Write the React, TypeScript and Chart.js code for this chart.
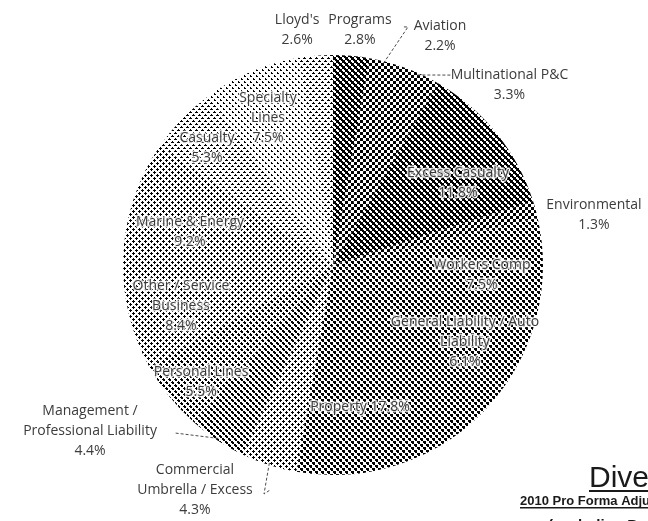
import React, { useEffect, useRef } from "react";
import { Chart, registerables } from "chart.js";

Chart.register(...registerables);

// ---- data (clockwise from 12 o'clock) ----
const categories = [
  "Programs",
  "Aviation",
  "Multinational P&C",
  "Excess Casualty",
  "Environmental",
  "Workers Comp",
  "General Liability / Auto Liability",
  "Property",
  "Commercial Umbrella / Excess",
  "Management / Professional Liability",
  "Personal Lines",
  "Other / Service Business",
  "Marine & Energy",
  "Casualty",
  "Specialty Lines",
  "Lloyd's",
];
const shares = [2.8, 2.2, 3.3, 11.8, 1.3, 7.5, 6.1, 17.8, 4.3, 4.4, 5.5, 8.4, 9.2, 5.3, 7.5, 2.6];

// ---- styling / label layout ----
const labelBreaks: string[][] = [
  ["Programs"],
  ["Aviation"],
  ["Multinational P&C"],
  ["Excess Casualty"],
  ["Environmental"],
  ["Workers Comp"],
  ["General Liability / Auto", "Liability"],
  ["Property"],
  ["Commercial", "Umbrella / Excess"],
  ["Management /", "Professional Liability"],
  ["Personal Lines"],
  ["Other / Service", "Business"],
  ["Marine & Energy"],
  ["Casualty"],
  ["Specialty", "Lines"],
  ["Lloyd's"],
];
// darkness of the halftone screen for each slice (0..18)
const shadeLevels = [11, 9, 9, 11, 9, 8, 8, 8, 5, 7, 6, 5, 5, 4, 3, 4];

type Placement = {
  r: number;
  da: number;
  inside: boolean;
  inline?: boolean;
  leader?: number[][];
};
const placements: Placement[] = [
  { r: 1.126, da: 1.5, inside: false },
  { r: 1.204, da: 11, inside: false, leader: [[-38, -9], [-32, -9]] },
  { r: 1.2, da: 20.5, inside: false, leader: [[-58, -10]] },
  { r: 0.712, da: 5.6, inside: true },
  { r: 1.265, da: 4.5, inside: false },
  { r: 0.711, da: 3.3, inside: true },
  { r: 0.728, da: 5.3, inside: true },
  { r: 0.688, da: 11.2, inside: true, inline: true },
  { r: 1.257, da: 13.7, inside: false, leader: [[75, 0], [69, 4]] },
  { r: 1.401, da: 22.2, inside: false, leader: [[84, 2]] },
  { r: 0.84, da: -2.9, inside: true },
  { r: 0.75, da: -1.4, inside: true },
  { r: 0.699, da: -5, inside: true },
  { r: 0.819, da: -1.2, inside: true },
  { r: 0.765, da: -1.0, inside: true },
  { r: 1.132, da: -4, inside: false },
];

// clustered-dot growth order inside a 3x3 cell
const cellOrder = [
  [6, 2, 7],
  [3, 0, 1],
  [8, 4, 5],
];

function makePattern(ctx: CanvasRenderingContext2D, level: number): CanvasPattern | string {
  const c = document.createElement("canvas");
  c.width = 6;
  c.height = 6;
  const g = c.getContext("2d");
  if (!g) return "#888";
  g.fillStyle = "#ffffff";
  g.fillRect(0, 0, 6, 6);
  g.fillStyle = "#000000";
  for (let y = 0; y < 6; y++) {
    for (let x = 0; x < 6; x++) {
      const cellA = (Math.floor(x / 3) + Math.floor(y / 3)) % 2 === 0;
      const o = cellOrder[y % 3][x % 3];
      const black = cellA ? level > o : level > 9 + (8 - o);
      if (black) g.fillRect(x, y, 1, 1);
    }
  }
  return ctx.createPattern(c, "repeat") || "#888";
}

const FONT = "14px 'Open Sans', 'Liberation Sans', sans-serif";
const LINE_H = 20;

const labelPlugin = {
  id: "sliceLabels",
  afterDatasetsDraw(chart: any) {
    const ctx: CanvasRenderingContext2D = chart.ctx;
    const meta = chart.getDatasetMeta(0);
    ctx.save();
    ctx.font = FONT;
    ctx.textAlign = "center";
    ctx.textBaseline = "middle";
    meta.data.forEach((arc: any, i: number) => {
      const { x, y, startAngle, endAngle, outerRadius } = arc.getProps(
        ["x", "y", "startAngle", "endAngle", "outerRadius"],
        true
      );
      const mid = (startAngle + endAngle) / 2;
      const p = placements[i];
      const ang = mid + (p.da * Math.PI) / 180;
      const cx = x + Math.cos(ang) * outerRadius * p.r;
      const cy = y + Math.sin(ang) * outerRadius * p.r;
      const value = `${shares[i].toFixed(1)}%`;
      const lines = p.inline
        ? [`${labelBreaks[i].join(" ")} ${value}`]
        : [...labelBreaks[i], value];
      const top = cy - ((lines.length - 1) * LINE_H) / 2;

      if (p.leader) {
        ctx.save();
        ctx.setLineDash([3, 2]);
        ctx.strokeStyle = "#4a4a4a";
        ctx.lineWidth = 1;
        ctx.beginPath();
        ctx.moveTo(x + Math.cos(mid) * outerRadius * 0.99, y + Math.sin(mid) * outerRadius * 0.99);
        const pts = [...p.leader].reverse();
        pts.forEach(([dx, dy]) => ctx.lineTo(cx + dx, cy + dy));
        ctx.stroke();
        ctx.restore();
      }

      lines.forEach((t, k) => {
        const ty = top + k * LINE_H;
        if (p.inside) {
          ctx.lineWidth = 3;
          ctx.strokeStyle = "rgba(255,255,255,0.8)";
          ctx.lineJoin = "round";
          ctx.strokeText(t, cx, ty);
          ctx.fillStyle = "#3a3a3a";
        } else {
          ctx.fillStyle = "#3c3c3c";
        }
        ctx.fillText(t, cx, ty);
      });
    });

    // slide title fragments (cut off at right edge)
    ctx.textAlign = "left";
    ctx.textBaseline = "alphabetic";
    ctx.fillStyle = "#1a1a1a";
    ctx.font = "30px 'Liberation Sans', Arial, sans-serif";
    const t1 = "Diversified Portfolio";
    ctx.fillText(t1, 589, 487);
    const w1 = ctx.measureText(t1).width;
    ctx.fillRect(589, 490, w1, 2);
    ctx.font = "bold 13px 'Liberation Sans', Arial, sans-serif";
    const t2 = "2010 Pro Forma Adjusted GWP";
    ctx.fillText(t2, 520, 505);
    const w2 = ctx.measureText(t2).width;
    ctx.fillRect(520, 507, w2, 1.5);
    ctx.font = "bold 15px 'Liberation Sans', Arial, sans-serif";
    ctx.fillText("(excluding Programs)", 548, 530);
    ctx.restore();
  },
};

export default function App() {
  const canvasRef = useRef<HTMLCanvasElement | null>(null);

  useEffect(() => {
    const canvas = canvasRef.current;
    if (!canvas) return;
    const ctx = canvas.getContext("2d");
    if (!ctx) return;
    const patterns = shadeLevels.map((l) => makePattern(ctx, l));
    const chart = new Chart(canvas, {
      type: "pie",
      data: {
        labels: categories,
        datasets: [
          {
            data: shares,
            backgroundColor: patterns as any,
            borderWidth: 0,
            hoverOffset: 0,
            offset: 0,
          },
        ],
      },
      options: {
        responsive: false,
        animation: false,
        events: [],
        layout: { padding: { top: 55, bottom: 46, left: 123, right: 105 } },
        plugins: {
          legend: { display: false },
          tooltip: { enabled: false },
        },
      },
      plugins: [labelPlugin],
    });
    return () => chart.destroy();
  }, []);

  return (
    <div
      style={{
        position: "absolute",
        left: 0,
        top: 0,
        width: 648,
        height: 521,
        background: "#ffffff",
        overflow: "hidden",
      }}
    >
      <canvas ref={canvasRef} width={648} height={521} style={{ display: "block" }} />
    </div>
  );
}
